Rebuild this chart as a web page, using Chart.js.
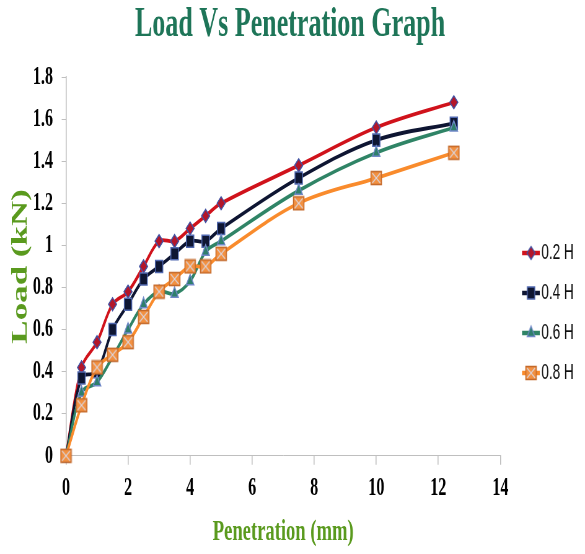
<!DOCTYPE html>
<html>
<head>
<meta charset="utf-8">
<script src="https://cdn.jsdelivr.net/npm/chart.js@4.4.1/dist/chart.umd.min.js"></script>
<style>
html, body { margin: 0; padding: 0; overflow: hidden; background: #fff; }
/* the reference is horizontally squeezed, so the chart is drawn wide and scaled */
#wrap { width: 944px; height: 554px; transform: scaleX(0.6197); transform-origin: 0 0; }
</style>
</head>
<body>
<div id="wrap"><canvas id="grafico"></canvas></div>
<script>
// datos
const penetracion = [0, 0.5, 1, 1.5, 2, 2.5, 3, 3.5, 4, 4.5, 5, 7.5, 10, 12.5];
const carga02 = [0, 0.42, 0.54, 0.72, 0.78, 0.90, 1.02, 1.02, 1.08, 1.14, 1.20, 1.38, 1.56, 1.68];
const carga04 = [0, 0.37, 0.40, 0.60, 0.72, 0.84, 0.90, 0.96, 1.02, 1.02, 1.08, 1.32, 1.50, 1.58];
const carga06 = [0, 0.30, 0.35, 0.47, 0.60, 0.72, 0.78, 0.77, 0.83, 0.97, 1.02, 1.26, 1.44, 1.56];
const carga08 = [0, 0.24, 0.42, 0.48, 0.54, 0.66, 0.78, 0.84, 0.90, 0.90, 0.96, 1.20, 1.32, 1.44];
const series = ['0.2 H', '0.4 H', '0.6 H', '0.8 H'];
const ticksX = [0, 2, 4, 6, 8, 10, 12, 14];
const ticksY = [0, 0.2, 0.4, 0.6, 0.8, 1, 1.2, 1.4, 1.6, 1.8];

const estilos = [
  { line: '#D0121B', fill: '#B3162A', border: '#4353A3', shape: 'rectRot', r: 6.5 },
  { line: '#0E1532', fill: '#0E1633', border: '#5068B0', shape: 'rect', r: 8.5 },
  { line: '#2F8466', fill: '#2F7F6C', border: '#7088C8', shape: 'triangle', r: 7 },
  { line: '#F98B2C', fill: '#F29142', border: '#C4692A', shape: 'xbox', r: 8 }
];

function dibujarMarca(c, s, x, y) {
  c.fillStyle = s.fill;
  c.strokeStyle = s.border;
  c.lineWidth = 1.5;
  c.beginPath();
  if (s.shape === 'rectRot') {
    c.moveTo(x - s.r, y); c.lineTo(x, y - s.r); c.lineTo(x + s.r, y); c.lineTo(x, y + s.r);
  } else if (s.shape === 'rect') {
    const h = s.r * Math.SQRT1_2;
    c.rect(x - h, y - h, 2 * h, 2 * h);
  } else if (s.shape === 'triangle') {
    c.moveTo(x, y - s.r);
    c.lineTo(x + s.r * 0.866, y + s.r * 0.5);
    c.lineTo(x - s.r * 0.866, y + s.r * 0.5);
  } else {
    c.rect(x - 8.5, y - 6.5, 17, 13);
  }
  c.closePath();
  c.fill();
  c.stroke();
  if (s.shape === 'xbox') {
    c.strokeStyle = '#DCD6DE';
    c.lineWidth = 1.4;
    c.beginPath();
    c.moveTo(x - 6.5, y - 5); c.lineTo(x + 6.5, y + 5);
    c.moveTo(x + 6.5, y - 5); c.lineTo(x - 6.5, y + 5);
    c.stroke();
  }
}

// marca naranja (cuadro con X)
function marcaNaranja() {
  const cv = document.createElement('canvas');
  cv.width = 20; cv.height = 16;
  dibujarMarca(cv.getContext('2d'), estilos[3], 10, 8);
  return cv;
}

// simbolo de la leyenda: linea + marca
function simboloLeyenda(s) {
  const cv = document.createElement('canvas');
  cv.width = 55; cv.height = 20;
  const c = cv.getContext('2d');
  c.strokeStyle = s.line;
  c.lineWidth = 4.5;
  c.beginPath();
  c.moveTo(26, 10); c.lineTo(55, 10);
  c.stroke();
  dibujarMarca(c, s, 40.5, 10);
  return cv;
}

const valores = [carga02, carga04, carga06, carga08];
const naranja = marcaNaranja();
const simbolos = estilos.map(simboloLeyenda);

const datasets = series.map((nombre, i) => ({
  label: nombre,
  data: penetracion.map((x, j) => ({ x: x, y: valores[i][j] })),
  borderColor: estilos[i].line,
  borderWidth: 3.8,
  tension: 0.35,
  fill: false,
  clip: false,
  order: 3 - i,
  pointStyle: estilos[i].shape === 'xbox' ? naranja : estilos[i].shape,
  pointRadius: estilos[i].r,
  pointBackgroundColor: estilos[i].fill,
  pointBorderColor: estilos[i].border,
  pointBorderWidth: 1.5
}));

const fuenteEje = { family: 'Liberation Serif', size: 26, weight: 'bold' };
const etiqueta = (v) => String(Number(v.toFixed(1)));

new Chart(document.getElementById('grafico'), {
  type: 'line',
  data: { datasets: datasets },
  options: {
    responsive: true,
    maintainAspectRatio: false,
    animation: false,
    layout: { padding: { left: 0, right: 8, top: 0, bottom: 0 } },
    plugins: {
      title: {
        display: true,
        text: 'Load Vs Penetration Graph',
        color: '#1E7558',
        font: { family: 'Liberation Serif', size: 42, weight: 'bold', lineHeight: 1.0 },
        padding: { top: 4, bottom: 31 }
      },
      legend: {
        position: 'right',
        align: 'start',
        title: { display: true, text: ' ', font: { size: 12, lineHeight: 1.2 }, padding: { top: 209.6, bottom: 0 } },
        labels: {
          usePointStyle: true,
          pointStyleWidth: 37,
          padding: 18,
          color: '#111',
          font: { family: 'Liberation Sans', size: 22 },
          generateLabels: () => series.map((nombre, i) => ({
            text: nombre,
            datasetIndex: i,
            pointStyle: simbolos[i],
            fillStyle: estilos[i].fill,
            strokeStyle: estilos[i].line,
            lineWidth: 0,
            fontColor: '#111',
            hidden: false
          }))
        }
      },
      tooltip: { enabled: false }
    },
    scales: {
      x: {
        type: 'linear',
        min: ticksX[0],
        max: ticksX[ticksX.length - 1],
        afterBuildTicks: (eje) => { eje.ticks = ticksX.map(v => ({ value: v })); },
        grid: { drawOnChartArea: false, drawTicks: true, tickLength: 9, color: '#BFBFBF', lineWidth: 1.6 },
        border: { color: '#BFBFBF', width: 1 },
        ticks: { color: '#000', font: fuenteEje, padding: 8, maxRotation: 0, callback: etiqueta },
        title: {
          display: true,
          text: 'Penetration (mm)',
          color: '#5A9A1E',
          font: { family: 'Liberation Serif', size: 30, weight: 'bold', lineHeight: 1.0 },
          padding: { top: 5, bottom: 7 }
        }
      },
      y: {
        min: ticksY[0],
        max: ticksY[ticksY.length - 1],
        afterBuildTicks: (eje) => { eje.ticks = ticksY.map(v => ({ value: v })); },
        grid: { drawOnChartArea: false, drawTicks: true, tickLength: 7, color: '#BFBFBF', lineWidth: 1 },
        border: { color: '#BFBFBF', width: 1.6 },
        ticks: { color: '#000', font: fuenteEje, padding: 14, callback: etiqueta },
        title: {
          display: true,
          text: 'Load (kN)',
          color: '#5A9A1E',
          font: { family: 'Liberation Serif', size: 35, weight: 'bold', lineHeight: 1.0 },
          padding: { top: 16, bottom: -12 }
        }
      }
    }
  }
});
</script>
</body>
</html>
